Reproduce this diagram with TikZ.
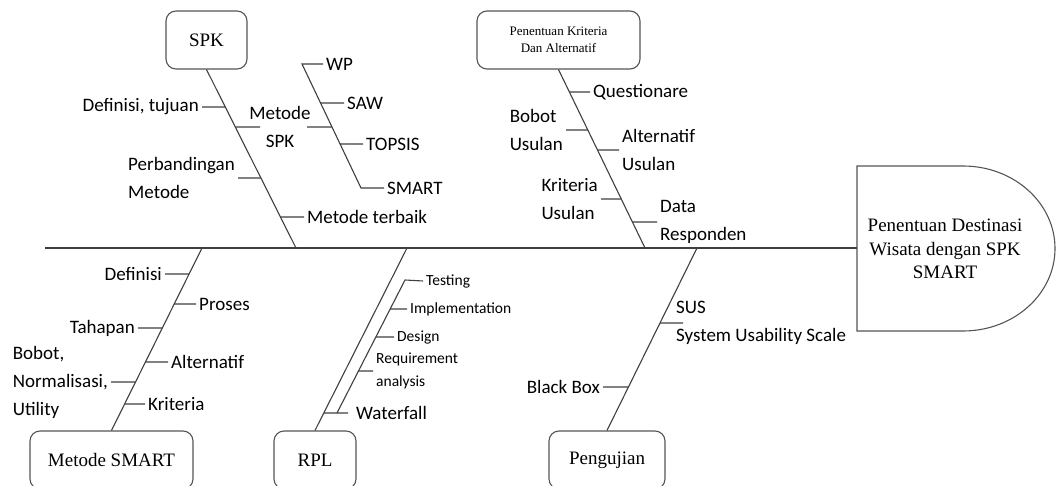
\documentclass[tikz,border=0pt]{standalone}
\usepackage{fontspec}
\setmainfont{Carlito}
\newfontfamily\boxfont{Liberation Serif}
\usepackage{xcolor}
\usepackage{tikz}

\definecolor{linegray}{HTML}{3F3F3F}
\definecolor{boxgray}{HTML}{555555}

\tikzset{
  bone/.style={draw=linegray, line width=1.1pt},
  tick/.style={draw=linegray, line width=1.1pt},
  catbox/.style={draw=boxgray, line width=1.1pt, rounded corners=10pt, align=center,
    font=\boxfont\fontsize{19}{24}\selectfont, minimum height=58pt},
  lbl/.style={inner sep=3pt, align=left, font=\fontsize{19}{28}\selectfont},
  lblsmall/.style={inner sep=3pt, align=left, font=\fontsize{15.5}{23}\selectfont},
}

\begin{document}
\begin{tikzpicture}[x=1pt,y=-1pt]
        \useasboundingbox (0,0) rectangle (1056,486);
        % head of the fish
        \draw[draw=boxgray, line width=1.1pt] (857,166) -- (963,166)
            arc[start angle=-90, end angle=90, x radius=92, y radius=82.5] -- (857,331) -- cycle;
        \node[font=\boxfont\fontsize{19}{23.5}\selectfont, align=center] (head) at (945,249)
            {Penentuan Destinasi\\Wisata dengan SPK\\SMART};
        \coordinate (headw) at (857,248);
        \coordinate (sp0) at (45,248);
        \coordinate (j1) at (296,248);
        \coordinate (j2) at (645,248);
        \coordinate (j4) at (202,248);
        \coordinate (j5) at (407,248);
        \coordinate (j6) at (697,248);
        % categories
        \node[catbox, minimum width=81pt] (spk) at (206.5,40) {SPK};
        \node[catbox, minimum width=163pt, font=\boxfont\fontsize{13}{17}\selectfont] (krit) at (558.5,40)
            {Penentuan Kriteria\\Dan Alternatif};
        \node[catbox, minimum width=163pt] (smbox) at (111.5,460) {Metode SMART};
        \node[catbox, minimum width=82pt] (rpl) at (315,460) {RPL};
        \node[catbox, minimum width=116pt] (peng) at (607,460) {Pengujian};
        % spine and bones
        \draw[bone] (sp0) -- (headw);
        \draw[bone] (spk.south) -- (j1);
        \draw[bone] (krit.south) -- (j2);
        \draw[bone] (smbox.north) -- (j4);
        \draw[bone] (rpl.north) -- (j5);
        \draw[bone] (peng.north) -- (j6);

        % SPK
        \coordinate (m1) at (302,64);
        \coordinate (m2) at (361,188);
        \node[lbl, anchor=east] (dtuj) at (202,107) {Definisi, tujuan};
        \node[lbl, align=center] (metspk) at (280,127) {Metode\\SPK};
        \node[lbl, anchor=east] (perb) at (238,178) {Perbandingan\\Metode};
        \node[lbl, anchor=west] (terbaik) at (304,217) {Metode terbaik};
        \node[lbl, anchor=west] (wp) at (323,64) {WP};
        \node[lbl, anchor=west] (saw) at (344,103) {SAW};
        \node[lbl, anchor=west] (topsis) at (363,144) {TOPSIS};
        \node[lbl, anchor=west] (smartl) at (384,188) {SMART};
        \draw[tick] (dtuj.east) -- (intersection of spk.south--j1 and dtuj.east--dtuj.west);
        \draw[tick] (intersection of spk.south--j1 and metspk.west--metspk.east) -- ([xshift=-20pt]metspk.center);
        \draw[tick] ([xshift=27pt]metspk.center) -- (intersection of m1--m2 and metspk.west--metspk.east);
        \draw[tick] (perb.east) -- (intersection of spk.south--j1 and perb.east--perb.west);
        \draw[tick] (terbaik.west) -- (intersection of spk.south--j1 and terbaik.west--terbaik.east);
        \draw[tick] (wp.west) -- (m1) -- (m2) -- (smartl.west);
        \draw[tick] (saw.west) -- (intersection of m1--m2 and saw.west--saw.east);
        \draw[tick] (topsis.west) -- (intersection of m1--m2 and topsis.west--topsis.east);

        % Penentuan Kriteria
        \node[lbl, anchor=west] (quest) at (590,92) {Questionare};
        \node[lbl, anchor=east] (bobu) at (566,130) {Bobot\\Usulan};
        \node[lbl, anchor=west] (altu) at (619,150) {Alternatif\\Usulan};
        \node[lbl, anchor=east] (kritu) at (601,199) {Kriteria\\Usulan};
        \node[lbl, anchor=west] (datar) at (657,222) {Data\\Responden};
        \draw[tick] (quest.west) -- (intersection of krit.south--j2 and quest.west--quest.east);
        \draw[tick] (bobu.east) -- (intersection of krit.south--j2 and bobu.east--bobu.west);
        \draw[tick] (altu.west) -- (intersection of krit.south--j2 and altu.west--altu.east);
        \draw[tick] (kritu.east) -- (intersection of krit.south--j2 and kritu.east--kritu.west);
        \draw[tick] (datar.west) -- (intersection of krit.south--j2 and datar.west--datar.east);

        % Metode SMART
        \node[lbl, anchor=east] (defn) at (165,274) {Definisi};
        \node[lbl, anchor=west] (proses) at (196,304) {Proses};
        \node[lbl, anchor=east] (tahap) at (138,328) {Tahapan};
        \node[lbl, anchor=west] (altn) at (168,362) {Alternatif};
        \node[lbl, anchor=east] (bnu) at (111,382) {Bobot,\\Normalisasi,\\Utility};
        \node[lbl, anchor=west] (kritn) at (145,404) {Kriteria};
        \draw[tick] (defn.east) -- (intersection of smbox.north--j4 and defn.east--defn.west);
        \draw[tick] (proses.west) -- (intersection of smbox.north--j4 and proses.west--proses.east);
        \draw[tick] (tahap.east) -- (intersection of smbox.north--j4 and tahap.east--tahap.west);
        \draw[tick] (altn.west) -- (intersection of smbox.north--j4 and altn.west--altn.east);
        \draw[tick] (bnu.east) -- (intersection of smbox.north--j4 and bnu.east--bnu.west);
        \draw[tick] (kritn.west) -- (intersection of smbox.north--j4 and kritn.west--kritn.east);

        % RPL
        \coordinate (r1) at (405,280);
        \coordinate (r2) at (337,413);
        \node[lblsmall, anchor=west] (testing) at (423,281) {Testing};
        \node[lblsmall, anchor=west] (impl) at (407,309) {Implementation};
        \node[lblsmall, anchor=west] (design) at (394,337) {Design};
        \node[lblsmall, anchor=west] (reqa) at (373,371) {Requirement\\analysis};
        \node[lbl, anchor=west, inner xsep=8pt] (wf) at (348,413) {Waterfall};
        \draw[tick] (testing.west) -- (r1) -- (r2);
        \draw[tick] (impl.west) -- (intersection of r1--r2 and impl.west--impl.east);
        \draw[tick] (design.west) -- (intersection of r1--r2 and design.west--design.east);
        \draw[tick] (reqa.west) -- (intersection of r1--r2 and reqa.west--reqa.east);
        \draw[tick] (intersection of rpl.north--j5 and wf.west--wf.east) -- (wf.west);

        % Pengujian
        \node[lbl, anchor=west] (sus) at (673,323) {SUS\\System Usability Scale};
        \node[lbl, anchor=east] (blackb) at (603,387) {Black Box};
        \draw[tick] (intersection of peng.north--j6 and sus.west--sus.east) -- ([xshift=10pt]sus.west);
        \draw[tick] (blackb.east) -- (intersection of peng.north--j6 and blackb.east--blackb.west);
\end{tikzpicture}
\end{document}
